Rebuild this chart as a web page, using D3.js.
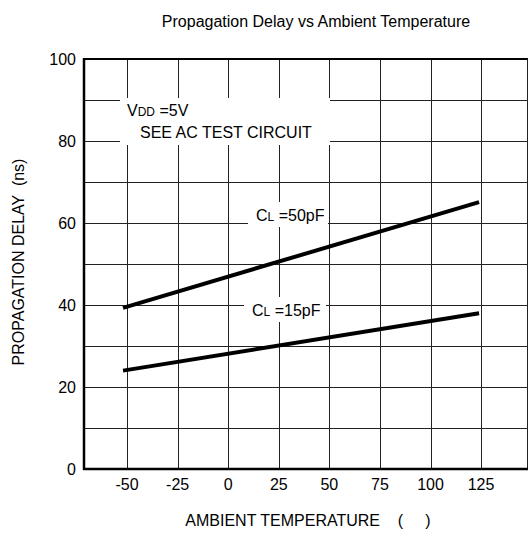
<!DOCTYPE html>
<html>
<head>
<meta charset="utf-8">
<script src="https://cdn.jsdelivr.net/npm/d3@7"></script>
<style>
  body { margin: 0; background: #fff; }
  svg { display: block; font-family: "Liberation Sans", Arial, sans-serif; }
  .grid line { stroke: #222; stroke-width: 1; shape-rendering: crispEdges; }
</style>
</head>
<body>
<svg width="529" height="533"></svg>
<script>
// data
var tempTicks = [-50, -25, 0, 25, 50, 75, 100, 125];
var delayTicks = [0, 20, 40, 60, 80, 100];
var delayGrid = [10, 20, 30, 40, 50, 60, 70, 80, 90];
var curveTemps = [-52, 124];
var delay50pF = [39.3, 65.1];
var delay15pF = [24, 38];

var svg = d3.select("svg");

var x = d3.scaleLinear().domain([-71.3, 148.2]).range([84, 528]);
var y = d3.scaleLinear().domain([0, 100]).range([469, 59]);

// title
svg.append("text")
    .attr("x", 316).attr("y", 27)
    .attr("text-anchor", "middle")
    .attr("font-size", 16)
    .text("Propagation Delay vs Ambient Temperature");

// grid
var grid = svg.append("g").attr("class", "grid");
grid.selectAll(".vx").data(tempTicks).enter().append("line")
    .attr("x1", d => Math.round(x(d)) + 0.5).attr("x2", d => Math.round(x(d)) + 0.5)
    .attr("y1", y(100)).attr("y2", y(0));
grid.selectAll(".hy").data(delayGrid).enter().append("line")
    .attr("y1", d => Math.round(y(d)) + 0.5).attr("y2", d => Math.round(y(d)) + 0.5)
    .attr("x1", x.range()[0]).attr("x2", x.range()[1]);

// white boxes behind the notes
svg.append("rect").attr("x", 120).attr("y", 98).attr("width", 210).attr("height", 47).attr("fill", "#fff");
svg.append("rect").attr("x", 248).attr("y", 202).attr("width", 80).attr("height", 25).attr("fill", "#fff");
svg.append("rect").attr("x", 244).attr("y", 297).attr("width", 82).attr("height", 25).attr("fill", "#fff");

// frame
svg.append("line").attr("x1", 84).attr("x2", 528).attr("y1", 59).attr("y2", 59)
    .attr("stroke", "#000").attr("stroke-width", 2);
svg.append("line").attr("x1", 527.5).attr("x2", 527.5).attr("y1", 59).attr("y2", 469)
    .attr("stroke", "#222").attr("stroke-width", 1);
svg.append("line").attr("x1", 84).attr("x2", 84).attr("y1", 58).attr("y2", 470)
    .attr("stroke", "#000").attr("stroke-width", 2.5);
svg.append("line").attr("x1", 83).attr("x2", 528).attr("y1", 469).attr("y2", 469)
    .attr("stroke", "#000").attr("stroke-width", 2.5);

// curves
var line = d3.line().x(d => x(d[0])).y(d => y(d[1]));
[delay50pF, delay15pF].forEach(function(s) {
  svg.append("path")
      .datum(curveTemps.map((t, i) => [t, s[i]]))
      .attr("d", line)
      .attr("fill", "none")
      .attr("stroke", "#000")
      .attr("stroke-width", 4);
});

// tick labels
svg.append("g").selectAll("text").data(tempTicks).enter().append("text")
    .attr("x", d => x(d)).attr("y", 490)
    .attr("text-anchor", "middle").attr("font-size", 16)
    .text(d => d);
svg.append("g").selectAll("text").data(delayTicks).enter().append("text")
    .attr("x", 76).attr("y", d => y(d) + 6)
    .attr("text-anchor", "end").attr("font-size", 16)
    .text(d => d);

// axis titles
svg.append("text")
    .attr("x", 308).attr("y", 526)
    .attr("text-anchor", "middle").attr("font-size", 16)
    .attr("xml:space", "preserve")
    .text("AMBIENT TEMPERATURE    (     )");
svg.append("text")
    .attr("transform", "translate(24,262) rotate(-90)")
    .attr("text-anchor", "middle").attr("font-size", 16)
    .attr("xml:space", "preserve")
    .text("PROPAGATION DELAY  (ns)");

// notes
function note(px, py, main, sub, rest) {
  var t = svg.append("text").attr("x", px).attr("y", py).attr("font-size", 16);
  t.append("tspan").text(main);
  t.append("tspan").attr("font-size", 12).text(sub);
  t.append("tspan").attr("xml:space", "preserve").text(rest);
}
note(127, 116, "V", "DD", " =5V");
svg.append("text").attr("x", 140).attr("y", 138).attr("font-size", 16).text("SEE AC TEST CIRCUIT");
note(256, 221, "C", "L", " =50pF");
note(252, 316, "C", "L", " =15pF");
</script>
</body>
</html>
